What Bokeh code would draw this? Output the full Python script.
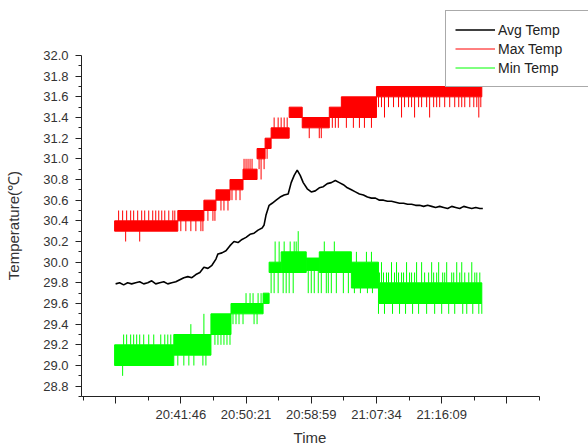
from bokeh.plotting import figure
from bokeh.models import FixedTicker, NumeralTickFormatter, Legend, LegendItem, Range1d
from bokeh.embed import file_html
from bokeh.resources import INLINE

# ---- axis ticks ----
x_ticks = [0, 65, 130, 195, 260, 325, 390]
x_tick_labels = ["", "20:41:46", "20:50:21", "20:58:59", "21:07:34", "21:16:09", ""]
x_minor = [-32.5, 32.5, 97.5, 162.5, 227.5, 292.5, 357.5, 422.5]
y_ticks = [28.8, 29.0, 29.2, 29.4, 29.6, 29.8, 30.0, 30.2, 30.4, 30.6, 30.8,
           31.0, 31.2, 31.4, 31.6, 31.8, 32.0]
y_minor = [28.7, 28.9, 29.1, 29.3, 29.5, 29.7, 29.9, 30.1, 30.3, 30.5, 30.7,
           30.9, 31.1, 31.3, 31.5, 31.7, 31.9]

# ---- Avg Temp (sample index, degC) ----
avg_x = [0, 4, 8, 12, 16, 20, 24, 28, 32, 36, 40, 44, 48, 52, 56, 60, 64, 68, 72, 76,
         80, 84, 88, 92, 96, 100, 102, 106, 110, 114, 118, 122, 126, 130, 134, 138, 142,
         146, 148, 150, 153, 156, 160, 164, 168, 172, 175, 178, 181, 184, 187, 191, 195,
         199, 203, 207, 211, 215, 219, 223, 227, 231, 235, 239, 243, 247, 251, 255, 259,
         263, 267, 271, 275, 279, 283, 287, 291, 295, 299, 303, 307, 311, 315, 319, 323,
         327, 331, 335, 339, 343, 347, 351, 355, 359, 363, 366]
avg_t = [29.79, 29.80, 29.78, 29.80, 29.79, 29.80, 29.81, 29.79, 29.80, 29.82, 29.79,
         29.80, 29.81, 29.79, 29.80, 29.81, 29.83, 29.85, 29.86, 29.85, 29.88, 29.90,
         29.95, 29.94, 29.97, 30.03, 30.08, 30.09, 30.11, 30.16, 30.20, 30.19, 30.22,
         30.24, 30.27, 30.28, 30.31, 30.33, 30.36, 30.46, 30.55, 30.57, 30.60, 30.63,
         30.65, 30.66, 30.77, 30.84, 30.89, 30.84, 30.77, 30.71, 30.68, 30.69, 30.72,
         30.73, 30.76, 30.77, 30.79, 30.77, 30.75, 30.72, 30.70, 30.68, 30.66, 30.65,
         30.63, 30.62, 30.62, 30.60, 30.60, 30.59, 30.59, 30.58, 30.57, 30.57, 30.56,
         30.56, 30.55, 30.55, 30.54, 30.55, 30.54, 30.53, 30.54, 30.53, 30.52, 30.54,
         30.53, 30.52, 30.54, 30.53, 30.52, 30.53, 30.52, 30.52]

# ---- Max Temp: dense bands (x from, x to, low, high) and isolated spikes ----
max_x0 = [-1, 62, 88, 100, 114, 127, 141, 149, 155, 173, 186, 213, 225, 260]
max_x1 = [62, 88, 100, 114, 127, 141, 149, 155, 173, 186, 213, 225, 260, 365]
max_lo = [30.3, 30.4, 30.5, 30.6, 30.7, 30.8, 31.0, 31.1, 31.2, 31.4, 31.3, 31.4, 31.4, 31.6]
max_hi = [30.4, 30.5, 30.6, 30.7, 30.8, 30.9, 31.1, 31.2, 31.3, 31.5, 31.4, 31.5, 31.6, 31.7]
max_sx = [3, 7, 11, 15, 18, 22, 26, 29, 33, 37, 40, 43, 46, 49, 53, 57, 59,
          10, 24,
          65, 70, 75, 80, 85, 87,
          92, 97, 99,
          105, 108, 112,
          116, 120, 124,
          128, 130, 132, 134, 136,
          143, 145, 148,
          151,
          158, 162, 165, 168, 171,
          193, 203, 205,
          216, 219, 222,
          230, 237, 243, 248, 255,
          262, 265, 272, 277, 282, 288, 292, 295, 302, 305, 310, 317, 320, 323, 328,
          333, 338, 342, 345, 348, 353, 357, 360, 364,
          268, 285, 298, 313, 362]
max_s0 = [30.4] * 17 + [30.3] * 2 + [30.4] * 6 + [30.5] * 3 + [30.6] * 3 + [30.7] * 3 \
    + [30.9] * 5 + [31.0] * 3 + [31.1] + [31.3] * 5 + [31.3] * 3 + [31.4] * 3 \
    + [31.4] * 5 + [31.6] * 24 + [31.6] * 5
max_s1 = [30.5] * 17 + [30.2] * 2 + [30.3] * 6 + [30.4] * 3 + [30.5] * 3 + [30.6] * 3 \
    + [31.0] * 5 + [30.9, 30.8, 30.9] + [31.0] + [31.4] * 5 + [31.2] * 3 + [31.3] * 3 \
    + [31.3] * 5 + [31.5] * 24 + [31.4] * 5

# ---- Min Temp ----
min_x0 = [-1, 58, 95, 115, 147, 153, 165, 190, 203, 235, 262]
min_x1 = [58, 95, 115, 147, 153, 165, 190, 203, 235, 262, 365]
min_lo = [29.0, 29.1, 29.3, 29.5, 29.6, 29.9, 29.9, 29.92, 29.9, 29.75, 29.6]
min_hi = [29.2, 29.3, 29.5, 29.6, 29.7, 30.0, 30.1, 30.04, 30.1, 30.0, 29.8]
min_sx = [8, 11, 15, 18, 21, 24, 28, 33, 38, 45, 49, 52, 55,
          7,
          62, 68, 73, 78, 87, 90,
          75, 88,
          99, 102, 105, 108, 111, 114,
          130, 134, 137, 142, 145,
          117, 120, 123, 127, 138, 141,
          159, 163, 168, 174, 178, 180,
          182,
          155, 158, 162, 167, 170, 173, 177,
          192, 195, 198, 202,
          208, 218,
          205, 210, 212, 215, 220, 227, 232,
          240, 250, 255,
          238, 244, 251, 256,
          265, 275, 280, 290, 300, 305, 315, 322, 330, 340, 345, 355,
          262, 268, 276, 283, 289, 296, 302, 310, 318, 325, 332, 338, 346, 350, 356, 362, 365,
          263, 267, 270, 272, 278, 282, 285, 287, 293, 295, 298, 308, 312, 317, 320, 326,
          328, 335, 337, 343, 348, 352, 358, 360, 363]
min_s0 = [29.2] * 13 + [29.0] + [29.1] * 6 + [29.3] * 2 + [29.3] * 6 + [29.6] * 5 \
    + [29.5] * 6 + [30.0] * 6 + [30.1] + [29.9] * 7 + [29.92] * 4 + [30.1] * 2 \
    + [29.9] * 7 + [30.0] * 3 + [29.75] * 4 + [29.8] * 12 + [29.6] * 17 + [29.8] * 25
min_s1 = [29.3] * 13 + [28.9] + [29.0] * 6 + [29.4, 29.5] + [29.2] * 6 + [29.7] * 5 \
    + [29.4] * 6 + [30.2] * 6 + [30.3] + [29.7] * 7 + [29.7] * 4 + [30.2] * 2 \
    + [29.7] * 7 + [30.1] * 3 + [29.7] * 4 + [30.0] * 12 + [29.5] * 17 + [29.9] * 25

RED = "#FF0000"
GREEN = "#00FF00"
FONT = "Liberation Sans"
TXT = "#333333"
PAD = "\u00a0"  # non-breaking spaces keep the axis titles centred on the drawn axes

# plot frame reaches the top and right edges so the legend box can sit there
p = figure(width=588, height=448, x_range=Range1d(-34, 471.34), y_range=Range1d(28.7, 32.5323),
           output_backend="svg", toolbar_location=None,
           min_border_left=81, min_border_right=0, min_border_top=0, min_border_bottom=52)
p.outline_line_color = None
p.xgrid.visible = False
p.ygrid.visible = False
p.background_fill_color = "white"
p.border_fill_color = "white"

p.quad(left=max_x0, right=max_x1, bottom=max_lo, top=max_hi,
       fill_color=RED, line_color=RED, line_width=1)
red_spk = p.segment(x0=max_sx, y0=max_s0, x1=max_sx, y1=max_s1, line_color=RED, line_width=1)
p.quad(left=min_x0, right=min_x1, bottom=min_lo, top=min_hi,
       fill_color=GREEN, line_color=GREEN, line_width=1)
green_spk = p.segment(x0=min_sx, y0=min_s0, x1=min_sx, y1=min_s1, line_color=GREEN, line_width=1)
avg_r = p.line(avg_x, avg_t, line_color="black", line_width=1.6)

# axes
for ax in (p.xaxis[0], p.yaxis[0]):
    ax.axis_line_color = "#222222"
    ax.major_tick_line_color = "#222222"
    ax.minor_tick_line_color = "#222222"
    ax.major_tick_in = 0
    ax.minor_tick_in = 0
    ax.major_label_text_font = FONT
    ax.major_label_text_font_size = "13px"
    ax.major_label_text_color = TXT
    ax.axis_label_text_font = FONT
    ax.axis_label_text_font_style = "normal"
    ax.axis_label_text_font_size = "15px"
    ax.axis_label_text_color = TXT

p.xaxis.ticker = FixedTicker(ticks=x_ticks, minor_ticks=x_minor)
p.xaxis.major_label_overrides = {t: l for t, l in zip(x_ticks, x_tick_labels)}
p.xaxis.bounds = (-34, 422.5)
p.xaxis.major_tick_out = 7
p.xaxis.minor_tick_out = 4
p.xaxis.major_label_standoff = 3
p.xaxis.axis_label = "Time" + PAD * 12
p.xaxis.axis_label_standoff = 4

p.yaxis.ticker = FixedTicker(ticks=y_ticks, minor_ticks=y_minor)
p.yaxis.formatter = NumeralTickFormatter(format="0.0")
p.yaxis.bounds = (28.7, 32.0)
p.yaxis.major_tick_out = 6
p.yaxis.minor_tick_out = 3
p.yaxis.major_label_standoff = 7
p.yaxis.axis_label = "Temperature(℃)" + PAD * 13
p.yaxis.axis_label_standoff = 18

legend = Legend(items=[LegendItem(label="Avg Temp", renderers=[avg_r]),
                       LegendItem(label="Max Temp", renderers=[red_spk]),
                       LegendItem(label="Min Temp", renderers=[green_spk])],
                location=(364, 309), padding=9, spacing=0, margin=0,
                glyph_width=40, glyph_height=19, label_height=19, label_standoff=3,
                label_width=100,
                label_text_font=FONT, label_text_font_size="14px", label_text_color="#222222",
                border_line_color="#555555", border_line_width=1,
                background_fill_color="white", background_fill_alpha=1.0)
p.add_layout(legend)

open("out.html", "w").write(file_html(p, INLINE))
